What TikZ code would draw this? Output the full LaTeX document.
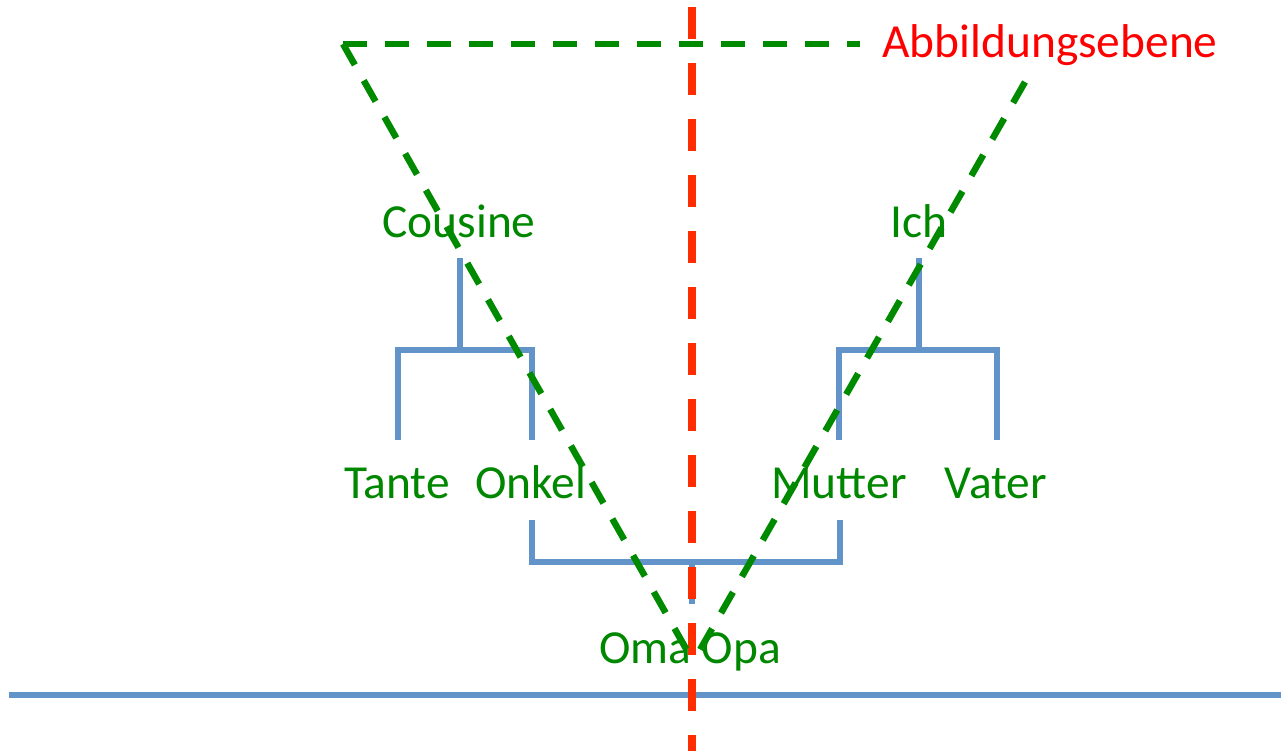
\documentclass[tikz,border=0pt]{standalone}
\usepackage{fontspec}
\setmainfont{Carlito}
\begin{document}
\begin{tikzpicture}[x=0.02cm,y=-0.02cm,
  blueline/.style={draw={rgb,255:red,98;green,148;blue,202}, line width=0.11cm, line join=miter},
  redline/.style={draw={rgb,255:red,255;green,45;blue,0}, line width=0.15cm, dash pattern=on 0.64cm off 0.48cm},
  greenline/.style={draw={rgb,255:red,0;green,138;blue,0}, line width=0.13cm, dash pattern=on 0.48cm off 0.36cm},
  lbl/.style={text={rgb,255:red,0;green,135;blue,0}, font=\fontsize{27}{32}\selectfont, inner sep=0pt, anchor=base},
  redlbl/.style={lbl, text={rgb,255:red,255;green,0;blue,0}}]
\useasboundingbox (0,0) rectangle (1281,751);

% blue lines
\coordinate (gl) at (9,695);
\coordinate (gr) at (1281,695);
\draw[blueline] (gl) -- (gr);

\coordinate (cstem) at (460,258);
\coordinate (cjoin) at (460,350);
\coordinate (tl) at (398,440);
\coordinate (tlt) at (398,350);
\coordinate (ol) at (532,440);
\coordinate (olt) at (532,350);
\draw[blueline] (tl) -- (tlt) -- (olt) -- (ol);
\draw[blueline] (cstem) -- (cjoin);

\coordinate (istem) at (919,258);
\coordinate (ijoin) at (919,350);
\coordinate (ml) at (839,440);
\coordinate (mlt) at (839,350);
\coordinate (vl) at (997,440);
\coordinate (vlt) at (997,350);
\draw[blueline] (ml) -- (mlt) -- (vlt) -- (vl);
\draw[blueline] (istem) -- (ijoin);

\coordinate (ou) at (532,520);
\coordinate (oub) at (532,562);
\coordinate (mu) at (840,520);
\coordinate (mub) at (840,562);
\coordinate (ojoin) at (692,562);
\coordinate (ostem) at (692,604);
\draw[blueline] (ou) -- (oub) -- (mub) -- (mu);
\draw[blueline] (ojoin) -- (ostem);

% red axis
\coordinate (rtop) at (692,7);
\coordinate (rbot) at (692,751);
\draw[redline] (rtop) -- (rbot);

% labels
\node[redlbl] (abb) at (1050,57) {Abbildungsebene};
\node[lbl] (cousine) at (459,237) {Cousine};
\node[lbl] (ich) at (919,237) {Ich};
\node[lbl] (tante) at (397,498) {Tante};
\node[lbl] (onkel) at (531,498) {Onkel};
\node[lbl] (mutter) at (839,498) {Mutter};
\node[lbl] (vater) at (996,498) {Vater};
\node[lbl] (omaopa) at (690,663) {Oma Opa};

% green projection lines
\coordinate (corner) at (343,44);
\coordinate (topend) at (860,44);
\coordinate (apexl) at (689,654);
\coordinate (rtopg) at (1025,82);
\coordinate (apexr) at (697,655);
\draw[greenline] (corner) -- (topend);
\draw[greenline] (corner) -- (apexl);
\draw[greenline] (rtopg) -- (apexr);
\end{tikzpicture}
\end{document}
